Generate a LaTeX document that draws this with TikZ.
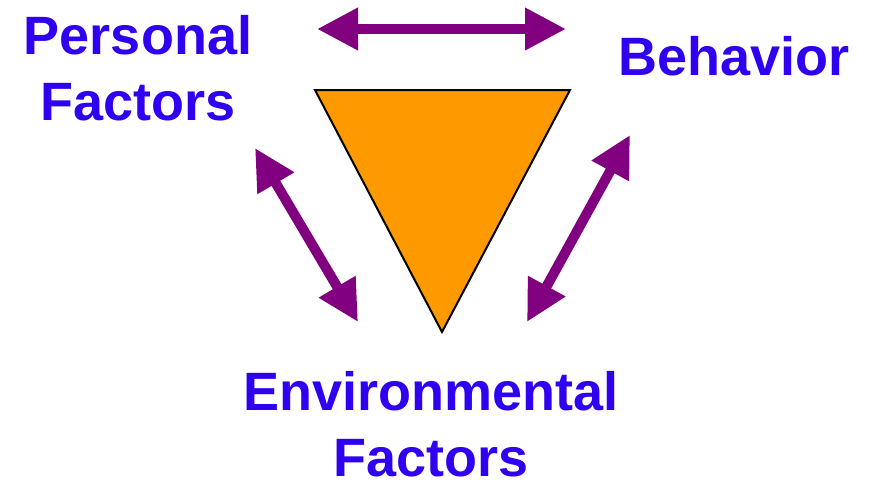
\documentclass[tikz,border=0pt]{standalone}
\usepackage{fontspec}
\setmainfont{Liberation Sans}
\usetikzlibrary{arrows.meta}
\definecolor{labelblue}{RGB}{48,0,240}
\definecolor{arrowpurple}{RGB}{128,0,128}
\definecolor{triorange}{RGB}{255,153,0}
\tikzset{
  lbl/.style={text=labelblue, font=\bfseries\fontsize{54}{66}\selectfont, align=center, inner sep=0pt, anchor=base},
  darrow/.style={draw=arrowpurple, line width=10pt, {Triangle[length=41pt,width=40pt]}-{Triangle[length=41pt,width=40pt]}},
  tri/.style={fill=triorange, draw=black, line width=2pt, line join=miter}
}
\begin{document}
\begin{tikzpicture}[x=1pt,y=-1pt]
\useasboundingbox (0,0) rectangle (879,483);
\fill[white] (0,0) rectangle (879,483);
\node[lbl] (pers) at (138,120) {Personal\\Factors};
\node[lbl] (beh) at (734,75) {Behavior};
\node[lbl, text depth=0pt] (env) at (431,476) {Environmental\\Factors};
\coordinate (t1) at (315,90);
\coordinate (t2) at (570,90);
\coordinate (t3) at (442,332);
\draw[tri] (t1) -- (t2) -- (t3) -- cycle;
\coordinate (a1) at (317,29);
\coordinate (a2) at (566,29);
\coordinate (b1) at (255,148);
\coordinate (b2) at (358,322);
\coordinate (c1) at (630,135);
\coordinate (c2) at (527,322);
\draw[darrow] (a1) -- (a2);
\draw[darrow] (b1) -- (b2);
\draw[darrow] (c1) -- (c2);
\end{tikzpicture}
\end{document}
